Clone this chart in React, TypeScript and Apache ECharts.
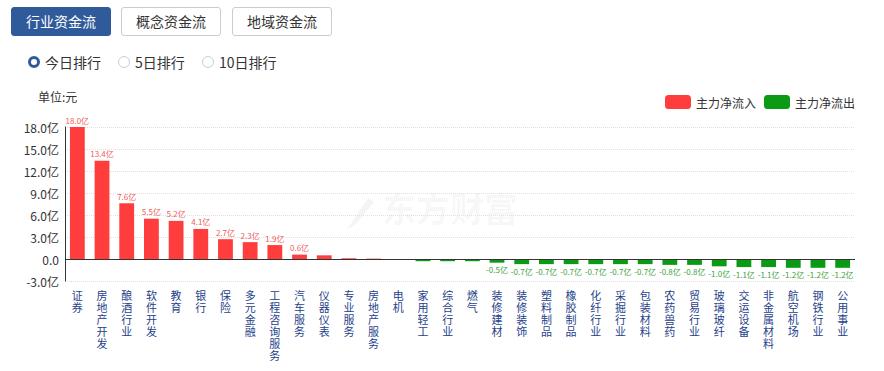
import React, { useEffect, useRef } from "react";
import * as echarts from "echarts";

const categories = [
  "证券", "房地产开发", "酿酒行业", "软件开发", "教育", "银行", "保险", "多元金融",
  "工程咨询服务", "汽车服务", "仪器仪表", "专业服务", "房地产服务", "电机", "家用轻工", "综合行业",
  "燃气", "装修建材", "装修装饰", "塑料制品", "橡胶制品", "化纤行业", "采掘行业", "包装材料",
  "农药兽药", "贸易行业", "玻璃玻纤", "交运设备", "非金属材料", "航空机场", "钢铁行业", "公用事业",
];
const values = [
  18.0, 13.4, 7.6, 5.5, 5.2, 4.1, 2.7, 2.3,
  1.9, 0.6, 0.5, 0.1, 0.05, -0.1, -0.3, -0.3,
  -0.3, -0.5, -0.7, -0.7, -0.7, -0.7, -0.7, -0.7,
  -0.8, -0.8, -1.0, -1.1, -1.1, -1.2, -1.2, -1.2,
];
const labeledTop = 10;
const labeledBottom = 15;
const yTicks = { min: -3, max: 18, interval: 3 };
const seriesNames = ["主力净流入", "主力净流出"];

const RED = "#ff3d3d";
const GREEN = "#0a9a14";
const FONT = "'Noto Sans CJK SC', 'Noto Sans', sans-serif";

function Chart() {
  const ref = useRef<HTMLDivElement>(null);
  useEffect(() => {
    if (!ref.current) return;
    const chart = echarts.init(ref.current, undefined, { renderer: "svg" });
    const n = values.length;
    const showLabel = (i: number) => i < labeledTop || i >= n - labeledBottom;
    const inflow = values.map((v, i) =>
      v >= 0 ? { value: v, label: { show: showLabel(i) } } : "-"
    );
    const outflow = values.map((v, i) =>
      v < 0 ? { value: v, label: { show: showLabel(i) } } : "-"
    );
    chart.setOption({
      animation: false,
      textStyle: { fontFamily: FONT },
      grid: { left: 65, right: 29, top: 47, bottom: 90 },
      legend: {
        right: 24,
        top: 10,
        itemWidth: 26,
        itemHeight: 14,
        itemGap: 8,
        icon: "roundRect",
        textStyle: { fontSize: 12, color: "#333", fontFamily: FONT },
        data: seriesNames,
      },
      graphic: [
        {
          type: "text",
          left: 38,
          top: 10,
          style: { text: "单位:元", fontSize: 12, fill: "#333", fontFamily: FONT },
        },
        {
          type: "text",
          left: 382,
          top: 110,
          z: -1,
          style: {
            text: "东方财富",
            fontSize: 34,
            fontWeight: "bold",
            fill: "rgba(0,0,0,0.045)",
            fontFamily: FONT,
          },
        },
        {
          type: "polygon",
          z: -1,
          shape: { points: [[368, 118], [352, 142], [346, 150], [356, 144], [374, 122]] },
          style: { fill: "rgba(0,0,0,0.045)" },
        },
      ],
      xAxis: {
        type: "category",
        data: categories,
        axisLine: { show: false, onZero: false },
        axisTick: { show: false },
        axisLabel: {
          interval: 0,
          margin: 8,
          color: "#1f3f8a",
          fontSize: 11,
          lineHeight: 12,
          verticalAlign: "top",
          formatter: (s: string) => s.split("").join("\n"),
        },
      },
      yAxis: {
        type: "value",
        min: yTicks.min,
        max: yTicks.max,
        interval: yTicks.interval,
        axisLine: { show: true, lineStyle: { color: "#333" } },
        axisTick: { show: false },
        splitLine: { show: true, lineStyle: { color: "#e0e0e0", type: "dotted" } },
        axisLabel: {
          color: "#333",
          fontSize: 12,
          margin: 6,
          formatter: (v: number) => (v === 0 ? "0.0" : v.toFixed(1) + "亿"),
        },
      },
      series: [
        {
          name: seriesNames[0],
          type: "bar",
          stack: "flow",
          barWidth: "60%",
          itemStyle: { color: RED },
          data: inflow,
          label: {
            position: "top",
            distance: 3,
            fontSize: 8,
            color: "#f05a5a",
            formatter: (p: any) => Number(p.value).toFixed(1) + "亿",
          },
          markLine: {
            silent: true,
            symbol: "none",
            label: { show: false },
            lineStyle: { color: "#333", type: "solid", width: 1 },
            data: [{ yAxis: 0 }],
          },
        },
        {
          name: seriesNames[1],
          type: "bar",
          stack: "flow",
          barWidth: "60%",
          itemStyle: { color: GREEN },
          data: outflow,
          label: {
            position: "bottom",
            distance: 3,
            fontSize: 8,
            color: "#3aa33a",
            formatter: (p: any) => Number(p.value).toFixed(1) + "亿",
          },
        },
      ],
    });
    return () => chart.dispose();
  }, []);
  return <div ref={ref} style={{ width: 884, height: 291 }} />;
}

const btnBase: React.CSSProperties = {
  position: "absolute",
  top: 7,
  width: 100,
  height: 29,
  boxSizing: "border-box",
  borderRadius: 3,
  fontSize: 14,
  lineHeight: "27px",
  textAlign: "center",
  fontFamily: FONT,
};

function Radio({ left, label, checked }: { left: number; label: string; checked?: boolean }) {
  return (
    <div style={{ position: "absolute", left, top: 52, height: 20, display: "flex", alignItems: "center", fontFamily: FONT, fontSize: 14, color: "#333" }}>
      <span
        style={{
          width: 12,
          height: 12,
          boxSizing: "border-box",
          borderRadius: "50%",
          border: checked ? "3.5px solid #2f5b9a" : "1px solid #ccd",
          background: "#fff",
          marginRight: 5,
          display: "inline-block",
        }}
      />
      <span>{label}</span>
    </div>
  );
}

export default function App() {
  return (
    <div style={{ position: "absolute", left: 0, top: 0, width: 884, height: 371, background: "#fff", overflow: "hidden" }}>
      <div style={{ ...btnBase, left: 11, background: "#2f5b9a", color: "#fff", border: "1px solid #2f5b9a" }}>行业资金流</div>
      <div style={{ ...btnBase, left: 121, background: "#fff", color: "#333", border: "1px solid #ccc" }}>概念资金流</div>
      <div style={{ ...btnBase, left: 232, background: "#fff", color: "#333", border: "1px solid #ccc" }}>地域资金流</div>
      <Radio left={28} label="今日排行" checked />
      <Radio left={118} label="5日排行" />
      <Radio left={202} label="10日排行" />
      <div style={{ position: "absolute", left: 0, top: 80 }}>
        <Chart />
      </div>
    </div>
  );
}
